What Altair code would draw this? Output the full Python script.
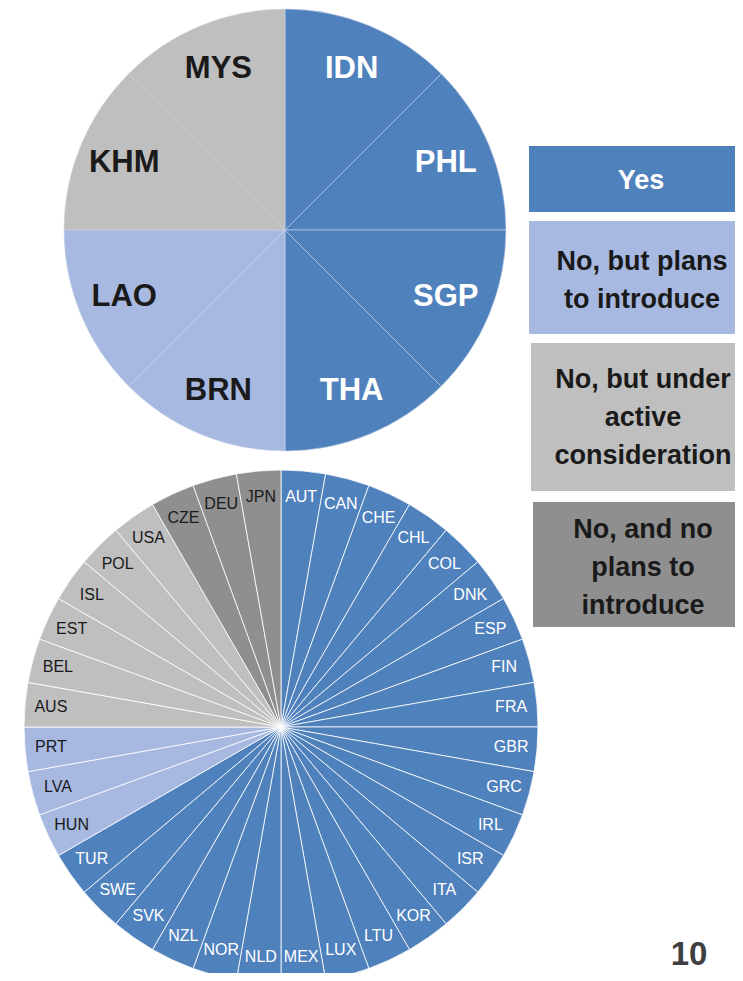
import altair as alt
import pandas as pd

# ---------------- data ----------------
STATUSES = [
    "Yes",
    "No, but plans to introduce",
    "No, but under active consideration",
    "No, and no plans to introduce",
]
STATUS_COLORS = ["#4F81BD", "#A7B9E1", "#BFBFBF", "#8F8F8F"]
LEGEND_TEXT = [
    "Yes",
    "No, but plans\nto introduce",
    "No, but under\nactive\nconsideration",
    "No, and no\nplans to\nintroduce",
]

asean_countries = ["IDN", "PHL", "SGP", "THA", "BRN", "LAO", "KHM", "MYS"]
asean_status = [
    "Yes", "Yes", "Yes", "Yes",
    "No, but plans to introduce", "No, but plans to introduce",
    "No, but under active consideration", "No, but under active consideration",
]
asean_share = [1, 1, 1, 1, 1, 1, 1, 1]

oecd_countries = [
    "AUT", "CAN", "CHE", "CHL", "COL", "DNK", "ESP", "FIN", "FRA", "GBR", "GRC", "IRL",
    "ISR", "ITA", "KOR", "LTU", "LUX", "MEX", "NLD", "NOR", "NZL", "SVK", "SWE", "TUR",
    "HUN", "LVA", "PRT",
    "AUS", "BEL", "EST", "ISL", "POL", "USA",
    "CZE", "DEU", "JPN",
]
oecd_status = (
    ["Yes"] * 24
    + ["No, but plans to introduce"] * 3
    + ["No, but under active consideration"] * 6
    + ["No, and no plans to introduce"] * 3
)
oecd_share = [1] * 36

page_number = "10"

# ---------------- frames ----------------
asean_df = pd.DataFrame({
    "country": asean_countries, "status": asean_status, "share": asean_share,
    "idx": list(range(len(asean_countries))),
})
oecd_df = pd.DataFrame({
    "country": oecd_countries, "status": oecd_status, "share": oecd_share,
    "idx": list(range(len(oecd_countries))),
})

FONT = "Liberation Sans, Arial, sans-serif"
color_scale = alt.Scale(domain=STATUSES, range=STATUS_COLORS)
text_color = alt.condition(alt.datum.status == "Yes", alt.value("white"), alt.value("#1a1a1a"))

W, H = 727, 965


def pie(df, cx, cy, r, label_r, font_size, bold, stroke, stroke_w):
    base = alt.Chart(df).encode(
        theta=alt.Theta("share:Q", stack=True),
        order=alt.Order("idx:Q"),
        x=alt.value(cx),
        y=alt.value(cy),
    )
    arcs = base.mark_arc(outerRadius=r, stroke=stroke, strokeWidth=stroke_w).encode(
        color=alt.Color("status:N", scale=color_scale, legend=None)
    )
    labels = base.mark_text(
        radius=label_r, fontSize=font_size, font=FONT,
        fontWeight="bold" if bold else "normal", align="center", baseline="middle",
    ).encode(text="country:N", color=text_color)
    return alt.layer(arcs, labels)


top = pie(asean_df, 277, 222, 221, 174, 31, True, "#c9d4ea", 0.6)
bottom = pie(oecd_df, 273, 719, 257, 231, 16, False, "white", 0.8)

# legend boxes (layout positions: box x, y, y2, text x, first-line y)
box_layout = [
    (521, 138, 204, 633, 173),
    (521, 213, 326, 634, 254),
    (523, 335, 483, 635, 372),
    (525, 494, 619, 635, 522),
]
legend_layers = []
for status, label, (bx, by, by2, tx, ty) in zip(STATUSES, LEGEND_TEXT, box_layout):
    ldf = pd.DataFrame({"status": [status], "label": [label]})
    rect = alt.Chart(ldf).mark_rect().encode(
        x=alt.value(bx), x2=alt.value(W), y=alt.value(by), y2=alt.value(by2),
        color=alt.Color("status:N", scale=color_scale, legend=None),
    )
    txt = alt.Chart(ldf).mark_text(
        font=FONT, fontSize=27, fontWeight="bold", lineBreak="\n", lineHeight=38,
        align="center", baseline="middle",
    ).encode(x=alt.value(tx), y=alt.value(ty), text="label:N", color=text_color)
    legend_layers += [rect, txt]

pn = alt.Chart(pd.DataFrame({"t": [page_number]})).mark_text(
    font=FONT, fontSize=33, fontWeight="bold", color="#404040", align="center",
    baseline="alphabetic",
).encode(x=alt.value(681), y=alt.value(957), text="t:N")

chart = alt.layer(top, bottom, *legend_layers, pn).resolve_scale(
    theta="independent"
).properties(
    width=W, height=H, padding=0, autosize=alt.AutoSizeParams(type="none"),
).configure_view(stroke=None)

chart.save("out.html", embed_options={"renderer": "svg", "actions": False})
